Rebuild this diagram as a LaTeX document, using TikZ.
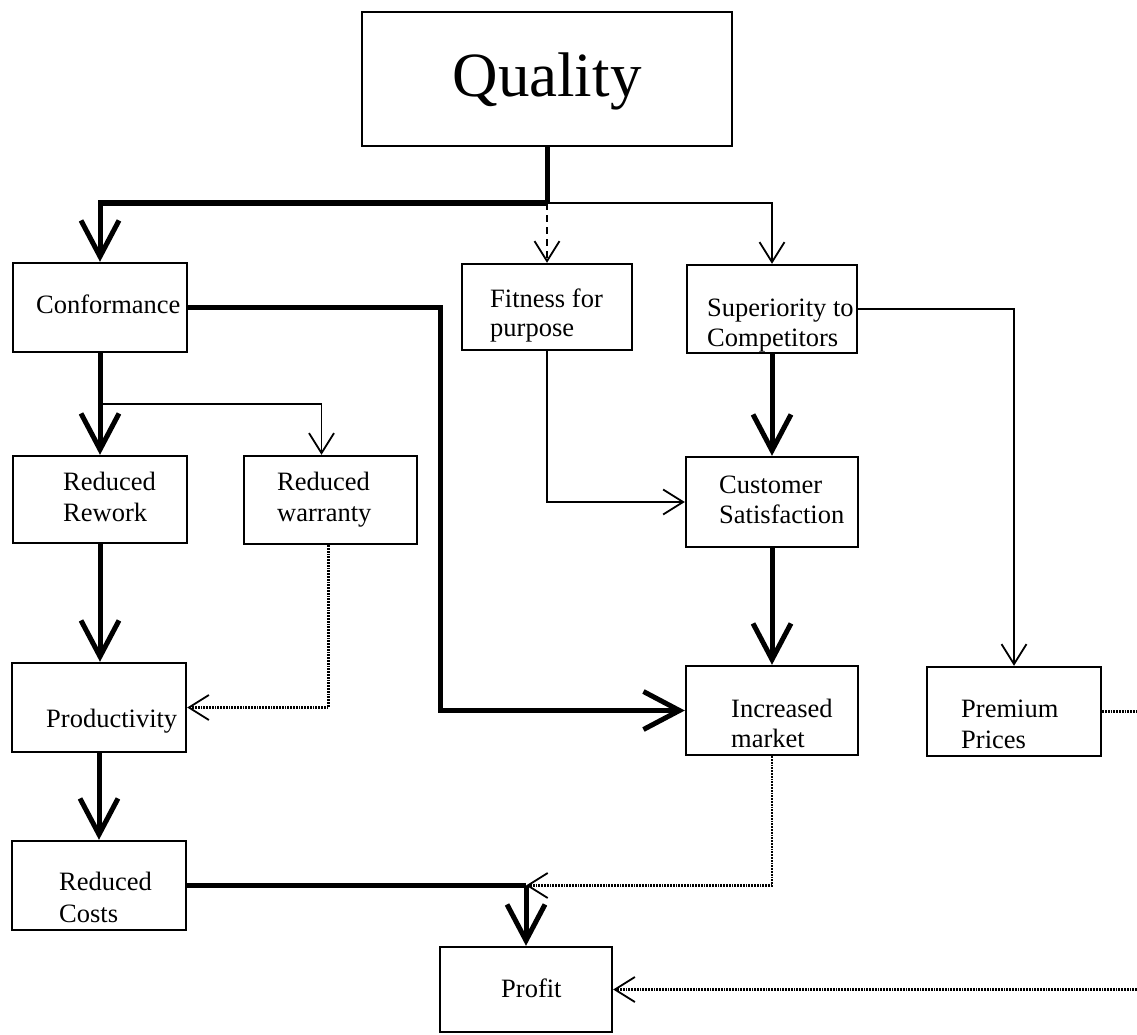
\documentclass[tikz,border=0pt]{standalone}
\usepackage{fontspec}
\setmainfont{Liberation Serif}
\usetikzlibrary{arrows.meta}

\begin{document}
\begin{tikzpicture}[x=1pt, y=-1pt,
  box/.style={draw, line width=2.4pt, inner sep=0pt},
  lbl/.style={anchor=base west, inner sep=0pt, font=\fontsize{26.5}{31}\selectfont},
  heavyline/.style={line width=5pt},
  heavy/.style={line width=5pt, -{Straight Barb[length=36pt, width=38pt]}},
  thinarr/.style={line width=1.8pt, -{Straight Barb[length=20pt, width=25pt]}},
  dotline/.style={line width=2.2pt, dash pattern=on 1.8pt off 1pt},
  dotarr/.style={dotline, -{Straight Barb[length=20pt, width=25pt, line width=1.8pt, sep=0pt]}},
]
\useasboundingbox (0,0) rectangle (1137,1035);
\fill[white] (0,0) rectangle (1137,1035);

% boxes
\node[box, minimum width=370pt, minimum height=134pt] (qual) at (547,79) {};
\node[box, minimum width=174pt, minimum height=89pt] (conf) at (100,307.5) {};
\node[box, minimum width=170pt, minimum height=86pt] (fit)  at (547,307) {};
\node[box, minimum width=170pt, minimum height=88pt] (sup)  at (772,309) {};
\node[box, minimum width=174pt, minimum height=87pt] (rew)  at (100,499.5) {};
\node[box, minimum width=173pt, minimum height=88pt] (war)  at (330.5,500) {};
\node[box, minimum width=172pt, minimum height=90pt] (cus)  at (772,502) {};
\node[box, minimum width=174pt, minimum height=89pt] (prod) at (99,707.5) {};
\node[box, minimum width=172pt, minimum height=89pt] (inc)  at (772,710.5) {};
\node[box, minimum width=174pt, minimum height=89pt] (pre)  at (1014,711.5) {};
\node[box, minimum width=174pt, minimum height=89pt] (cost) at (99,885.5) {};
\node[box, minimum width=172pt, minimum height=85pt] (prof) at (526,989.5) {};

% box texts
\node[anchor=base, inner sep=0pt, font=\fontsize{63}{70}\selectfont] (tq) at (547,97) {Quality};
\node[lbl] (tc)  at (36,313)  {Conformance};
\node[lbl] (tf1) at (490,307) {Fitness for};
\node[lbl] (tf2) at (490,336) {purpose};
\node[lbl] (ts1) at (707,316) {Superiority to};
\node[lbl] (ts2) at (707,346) {Competitors};
\node[lbl] (tr1) at (63,490)  {Reduced};
\node[lbl] (tr2) at (63,521)  {Rework};
\node[lbl] (tw1) at (277,490) {Reduced};
\node[lbl] (tw2) at (277,521) {warranty};
\node[lbl] (tu1) at (719,493) {Customer};
\node[lbl] (tu2) at (719,523) {Satisfaction};
\node[lbl] (tp)  at (46,727)  {Productivity};
\node[lbl] (ti1) at (731,717) {Increased};
\node[lbl] (ti2) at (731,747) {market};
\node[lbl] (tm1) at (961,717) {Premium};
\node[lbl] (tm2) at (961,748) {Prices};
\node[lbl] (tk1) at (59,890)  {Reduced};
\node[lbl] (tk2) at (59,922)  {Costs};
\node[lbl] (tpr) at (501,997) {Profit};

% junction points
\coordinate (split) at (547,203);
\coordinate (branch) at (100,404);
\coordinate (lane) at (440,500);
\coordinate (join) at (cost.east -| prof.north);
\coordinate (rimA) at (1137,711.5);
\coordinate (rimB) at (1137,989.5);

% Quality feeds three routes
\draw[heavyline] (qual.south) -- (split);
\draw[heavy] (split) -| (conf.north);
\draw[thinarr, dash pattern=on 7pt off 5pt] (split) -- (fit.north);
\draw[thinarr] (split) -| (sup.north);

% conformance routes
\draw[heavy] (conf.east) -| (lane) |- (inc.west);
\draw[heavy] (conf.south) -- (rew.north);
\draw[thinarr] (branch) -| ([xshift=-9pt]war.north);
\draw[heavy] (rew.south) -- (rew.south |- prod.north);
\draw[dotarr] ([xshift=-2pt]war.south) |- (prod.east);
\draw[heavy] (prod.south) -- (cost.north);

% market routes
\draw[thinarr] (fit.south) |- (cus.west);
\draw[heavy] (sup.south) -- (cus.north);
\draw[thinarr] (sup.east) -| (pre.north);
\draw[heavy] (cus.south) -- (inc.north);

% towards profit
\draw[heavyline] (cost.east) -- (join);
\draw[heavy] (join) -- (prof.north);
\draw[dotarr] (inc.south) |- (join);
\draw[dotline] (pre.east) -- (rimA);
\draw[dotarr] (rimB) -- (prof.east);
\end{tikzpicture}
\end{document}
